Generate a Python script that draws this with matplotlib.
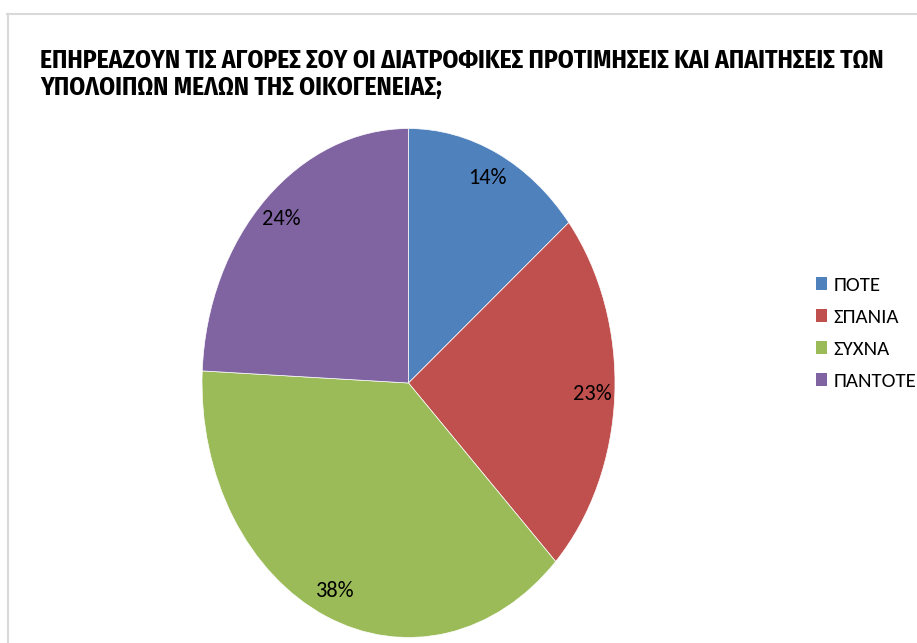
import matplotlib.pyplot as plt
from matplotlib.patches import Patch
from matplotlib.lines import Line2D

plt.rcParams['font.family'] = ['Carlito', 'DejaVu Sans']

title_lines = ["ΕΠΗΡΕΑΖΟΥΝ ΤΙΣ ΑΓΟΡΕΣ ΣΟΥ ΟΙ ΔΙΑΤΡΟΦΙΚΕΣ ΠΡΟΤΙΜΗΣΕΙΣ ΚΑΙ ΑΠΑΙΤΗΣΕΙΣ ΤΩΝ",
               "ΥΠΟΛΟΙΠΩΝ ΜΕΛΩΝ ΤΗΣ ΟΙΚΟΓΕΝΕΙΑΣ;"]
labels = ["ΠΟΤΕ", "ΣΠΑΝΙΑ", "ΣΥΧΝΑ", "ΠΑΝΤΟΤΕ"]
values = [14, 23, 38, 24]
colors = ["#4F81BD", "#C0504D", "#9BBB59", "#8064A2"]

W, H = 917, 643
fig = plt.figure(figsize=(W / 100, H / 100), dpi=100)

# chart area border (top and left edges only)
fig.add_artist(Line2D([7 / W, 1], [1 - 14 / H, 1 - 14 / H], color="#D9D9D9", lw=1.5))
fig.add_artist(Line2D([8 / W, 8 / W], [1 - 14 / H, 0], color="#D9D9D9", lw=1.5))

for line, base in zip(title_lines, [68, 95]):
    fig.text(40 / W, 1 - base / H, line, fontsize=18.4, fontweight="bold",
             family=["Fira Sans Condensed", "DejaVu Sans"],
             ha="left", va="baseline")

# the pie is drawn stretched vertically
ax = fig.add_axes([202 / W, (H - 637.5) / H, 413 / W, 509 / H])
wedges, _, autotexts = ax.pie(values, colors=colors, startangle=90, counterclock=False,
                              autopct="%.0f%%", pctdistance=0.89,
                              wedgeprops=dict(edgecolor="white", linewidth=0.5),
                              textprops=dict(fontsize=16, color="black"))
ax.set_aspect("auto")
ax.set_xlim(-1, 1)
ax.set_ylim(-1, 1)

handles = [Patch(facecolor=c, edgecolor="none") for c in colors]
fig.legend(handles, labels, loc="upper left", bbox_to_anchor=(816 / W, 1 - 277 / H),
           frameon=False, fontsize=15, handlelength=0.53, handleheight=0.58,
           handletextpad=0.3, labelspacing=0.72, borderaxespad=0, borderpad=0)

fig.savefig("out.png", dpi=100)
